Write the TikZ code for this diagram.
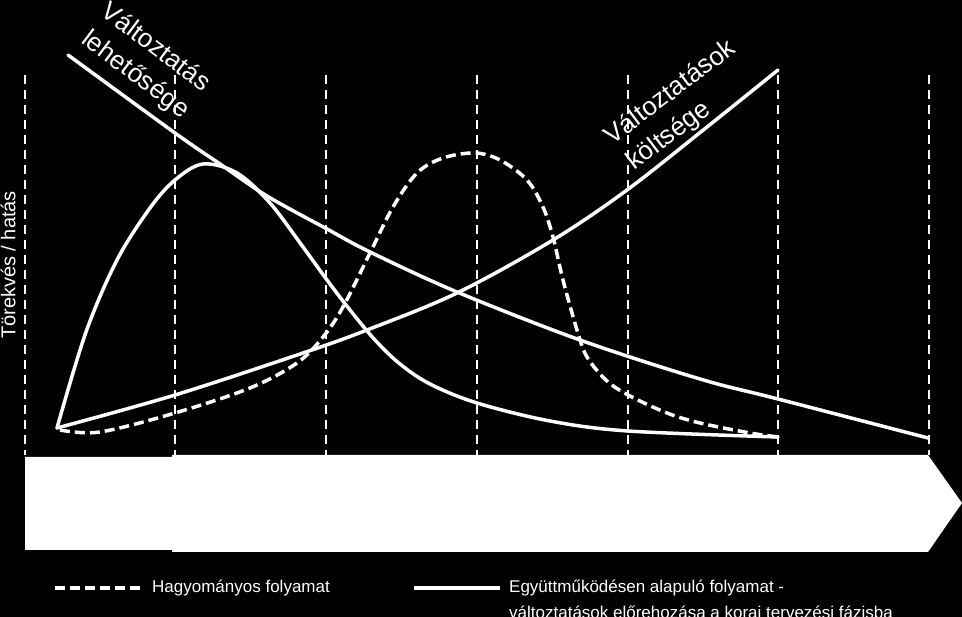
\documentclass[tikz,border=0pt]{standalone}
\usepackage{fontspec}
\setmainfont{Liberation Sans}
\begin{document}
\begin{tikzpicture}[x=1pt,y=-1pt,
  curve/.style={white, line width=3.5pt, line join=round, line cap=round},
  dcurve/.style={white, line width=3.5pt, dash pattern=on 10pt off 5pt},
  guide/.style={white, line width=1.2pt, dash pattern=on 9pt off 6pt},
  lbl/.style={white, font=\fontsize{26}{28}\selectfont, inner sep=0pt},
  leg/.style={white, font=\fontsize{17}{19}\selectfont, inner sep=0pt, anchor=west}]
\fill[black] (0,0) rectangle (962,617);
\useasboundingbox (0,0) rectangle (962,617);
% guides
\foreach \x in {25,175,326,477,628,778,929}
  \draw[guide] (\x,75) -- (\x,455);
% big arrow
\fill[white] (25,457) -- (172,457) -- (172,455) -- (928,455) -- (962,503)
  -- (928,552) -- (172,552) -- (172,550) -- (25,550) -- cycle;
% possibility of change
\draw[curve] plot[smooth, tension=0.55] coordinates {(68,55) (175,133) (220,164) (267,196) (327,229) (370,252) (457,292) (580,340) (700,379) (778,399) (928,438)};
% cost of change
\draw[curve] plot[smooth, tension=0.55] coordinates {(57,428) (175,395) (303,353) (367,330) (457,293) (553,240) (627,190) (707,127) (778,70)};
% collaborative process
\draw[curve] plot[smooth, tension=0.55] coordinates {(57,428) (86,332) (117,260) (150,208) (175,180) (203,164) (237,173) (270,203) (303,247) (327,280) (350,310) (375,340) (400,364) (430,384) (477,403) (550,421) (628,431) (778,437)};
% traditional process
\draw[dcurve] plot[smooth, tension=0.55] coordinates {(60,430) (100,432) (175,413) (250,388) (297,363) (323,337) (343,307) (370,253) (393,207) (417,173) (443,158) (475,153) (500,160) (527,180) (543,207) (553,237) (563,280) (577,330) (587,357) (607,381) (630,396) (667,413) (700,423) (750,433) (778,437)};
% labels
\node[lbl, rotate=-37] (l1) at (157,46) {Változtatás};
\node[lbl, rotate=-37] (l2) at (135,75) {lehetősége};
\node[lbl, rotate=37] (c1) at (669,91) {Változtatások};
\node[lbl, rotate=37] (c2) at (669,136) {költsége};
\node[white, font=\fontsize{20}{22}\selectfont, inner sep=0pt, rotate=90] (ax) at (8,265) {Törekvés / hatás};
% legend
\draw[dcurve] (55,588) -- (140,588);
\node[leg] (t1) at (152,588) {Hagyományos folyamat};
\draw[white, line width=3.5pt] (414,588) -- (500,588);
\node[leg] (t2) at (509,588) {Együttműködésen alapuló folyamat -};
\node[leg] (t3) at (509,612) {változtatások előrehozása a korai tervezési fázisba};
\end{tikzpicture}
\end{document}
